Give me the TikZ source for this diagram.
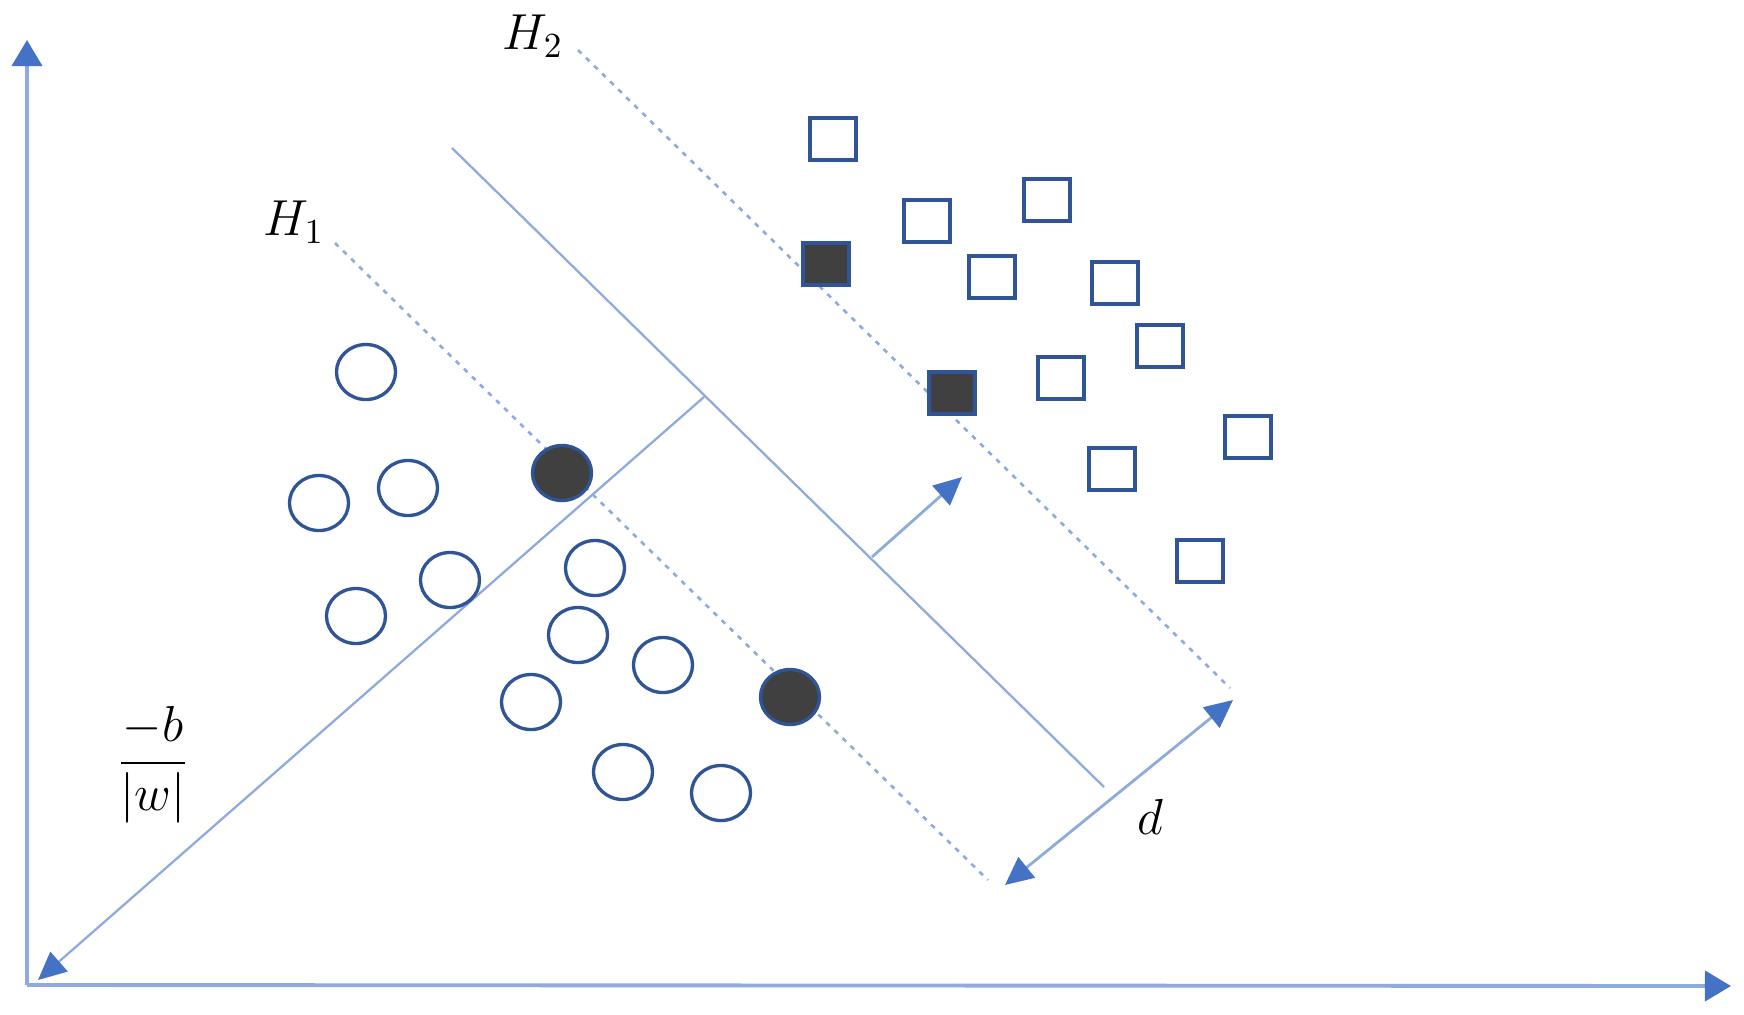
\documentclass[tikz,border=0pt]{standalone}
\usepackage{amsmath}
\usepackage{amsfonts}
\usepackage{tikz}
\usetikzlibrary{arrows.meta,shapes.geometric}
\definecolor{lineblue}{HTML}{8FAADC}
\definecolor{tipblue}{HTML}{4472C4}
\definecolor{markblue}{HTML}{2F5597}
\definecolor{markfill}{HTML}{404040}
\tikzset{
	axis/.style={lineblue,line width=1.1pt,-{Triangle[length=0.26cm,width=0.3cm,color=tipblue]}},
	plane/.style={lineblue,line width=0.65pt},
	margin/.style={lineblue,line width=0.75pt,dash pattern=on 1.4pt off 1.8pt},
	arr/.style={lineblue,line width=0.8pt,-{Triangle[length=0.28cm,width=0.26cm,color=tipblue]}},
	dblarr/.style={lineblue,line width=0.8pt,{Triangle[length=0.28cm,width=0.26cm,color=tipblue]}-{Triangle[length=0.28cm,width=0.26cm,color=tipblue]}},
	circ/.style={ellipse,draw=markblue,line width=0.95pt,minimum width=0.59cm,minimum height=0.55cm,inner sep=0pt},
	circsv/.style={circ,fill=markfill},
	sqr/.style={rectangle,draw=markblue,line width=1.1pt,minimum width=0.46cm,minimum height=0.42cm,inner sep=0pt},
	sqrsv/.style={sqr,fill=markfill},
	lbl/.style={font=\Large,inner sep=0pt}
}
\begin{document}
\begin{tikzpicture}[x=0.01cm,y=-0.01cm]
		\useasboundingbox (0,0) rectangle (1744,1014);
		% axes
		\coordinate (o) at (27,985);
		\coordinate (ytop) at (27,40);
		\coordinate (xend) at (1731,986);
		\draw[axis] (o) -- (ytop);
		\draw[axis] (o) -- (xend);
		% hyperplanes
		\coordinate (h1a) at (335,243);
		\coordinate (h1b) at (988,880);
		\coordinate (h0a) at (452,148);
		\coordinate (h0b) at (1104,787);
		\coordinate (h2a) at (578,50);
		\coordinate (h2b) at (1230,688);
		\draw[margin] (h1a) -- (h1b);
		\draw[plane] (h0a) -- (h0b);
		\draw[margin] (h2a) -- (h2b);
		\node[lbl](H1) at (294,222) {$H_1$};
		\node[lbl](H2) at (533,36) {$H_2$};
		% offset and normal
		\coordinate (foot) at (704,397);
		\coordinate (bend) at (38,980);
		\draw[arr,line width=0.65pt] (foot) -- (bend);
		\node[lbl](bw) at (153,765) {$\displaystyle\frac{-b}{|w|}$};
		\coordinate (wa) at (872,557);
		\coordinate (wb) at (962,477);
		\draw[arr] (wa) -- (wb);
		\coordinate (da) at (1005,885);
		\coordinate (db) at (1233,700);
		\draw[dblarr] (da) -- (db);
		\node[lbl](d) at (1150,817) {$d$};
		% class one
		\node[circ](c1) at (366,372) {};
		\node[circ](c2) at (319,503) {};
		\node[circ](c3) at (408,488) {};
		\node[circ](c4) at (450,580) {};
		\node[circ](c5) at (356,616) {};
		\node[circ](c6) at (595,568) {};
		\node[circ](c7) at (578,635) {};
		\node[circ](c8) at (663,665) {};
		\node[circ](c9) at (531,702) {};
		\node[circ](c10) at (623,772) {};
		\node[circ](c11) at (721,793) {};
		\node[circsv](s1) at (562,473) {};
		\node[circsv](s2) at (790,697) {};
		% class two
		\node[sqr](q1) at (833,139) {};
		\node[sqr](q2) at (927,221) {};
		\node[sqr](q3) at (1047,200) {};
		\node[sqr](q4) at (992,277) {};
		\node[sqr](q5) at (1115,283) {};
		\node[sqr](q6) at (1160,346) {};
		\node[sqr](q7) at (1061,378) {};
		\node[sqr](q8) at (1248,437) {};
		\node[sqr](q9) at (1112,469) {};
		\node[sqr](q10) at (1200,561) {};
		\node[sqrsv](t1) at (826,264) {};
		\node[sqrsv](t2) at (952,393) {};
	\end{tikzpicture}
\end{document}
